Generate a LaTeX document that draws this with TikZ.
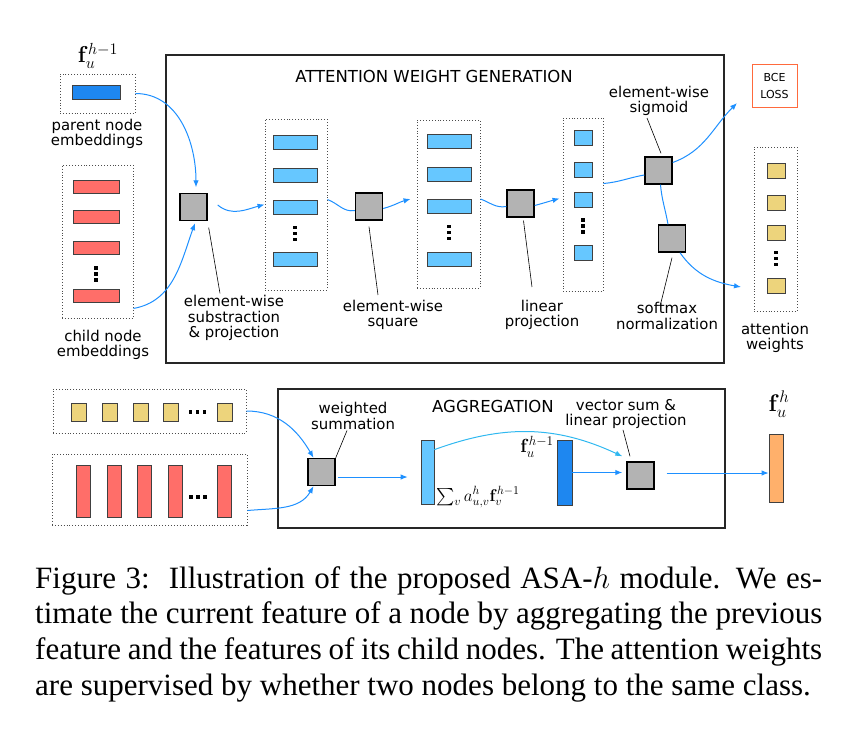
\RequirePackage{fix-cm}
\documentclass[tikz,border=0pt]{standalone}
\usepackage{amsmath}
\usepackage[no-math]{fontspec}
\setmainfont{Liberation Serif}
\setsansfont{DejaVu Sans}
\usetikzlibrary{arrows.meta,positioning}
\definecolor{parentBlue}{HTML}{1E87F0}
\definecolor{featBlue}{HTML}{66C7FF}
\definecolor{childRed}{HTML}{FF6E69}
\definecolor{weightYellow}{HTML}{EDD47C}
\definecolor{outOrange}{HTML}{FFB06B}
\definecolor{opGray}{HTML}{B3B3B3}
\definecolor{flowBlue}{HTML}{1E90FF}
\definecolor{arcCyan}{HTML}{30B8F0}
\definecolor{lossRed}{HTML}{FF6A3D}
\newcommand*{\sqSize}{27}
\newcommand*{\capWidth}{787pt}
\newcommand{\vDots}[2]{\foreach \dd in {-6,0,6} {\fill (#1-1.8,#2+\dd-1.8) rectangle ++(3.6,3.6);}}
\newcommand{\hDots}[2]{\foreach \dd in {-7,0,7} {\fill (#1+\dd-1.8,#2-1.8) rectangle ++(3.6,3.6);}}

\begin{document}
\begin{tikzpicture}[x=1pt,y=-1pt,
	op/.style={draw=black, line width=1.4pt, fill=opGray, minimum width=\sqSize, minimum height=\sqSize, inner sep=0},
	vec/.style={draw=black!75, line width=0.7pt, inner sep=0, minimum width=44, minimum height=14},
	grp/.style={draw=black!70, dotted, line width=0.9pt, inner sep=0},
	blockFrame/.style={draw=black!85, line width=1.4pt, inner sep=0},
	flow/.style={flowBlue, line width=1pt, -{Latex[length=7pt,width=5.5pt]}},
	link/.style={flowBlue, line width=1pt},
	leader/.style={black, line width=0.6pt},
	lbl/.style={font=\sffamily\fontsize{14.9}{15.2}\selectfont, align=center, inner sep=0},
	hdr/.style={font=\sffamily\fontsize{16.5}{18}\selectfont, inner sep=0},
	capText/.style={font=\fontsize{31}{35.7}\selectfont, align=left, inner sep=0}]
	\useasboundingbox (0,0) rectangle (852,742);
	
	% attention weight generation
	\node[blockFrame, minimum width=558, minimum height=308] (attBox) at (445,209) {};
	\node[hdr] (attTitle) at (434,76) {ATTENTION WEIGHT GENERATION};
	
	\node[grp, minimum width=75, minimum height=39] (parentGrp) at (97.5,93.5) {};
	\node[vec, fill=parentBlue, minimum width=48] (parentVec) at (96,92) {};
	\node[inner sep=0, font=\fontsize{23}{26}\selectfont] (fPrev) at (98,56) {$\mathbf{f}_u^{h-1}$};
	\node[lbl] (parentLbl) at (97,134) {parent node\\embeddings};
	
	\node[grp, minimum width=71, minimum height=153] (childGrp) at (97.5,241.5) {};
	\foreach \y [count=\i] in {186.5,216.5,247.5,296}
		\node[vec, fill=childRed, minimum width=46, minimum height=13] (child\i) at (96,\y) {};
	\vDots{96}{274}
	\node[lbl] (childLbl) at (103,345) {child node\\embeddings};
	
	\node[op] (subProj) at (193.5,207) {};
	\node[op] (sqOp) at (369,206.5) {};
	\node[op] (linProj) at (520.5,203.5) {};
	\node[op] (sigOp) at (658.5,170.5) {};
	\node[op] (softOp) at (672,238.5) {};
	
	\node[grp, minimum width=62, minimum height=171] (diffGrp) at (296,204.5) {};
	\foreach \y [count=\i] in {142.5,175,207,259.5}
		\node[vec, fill=featBlue] (diff\i) at (295,\y) {};
	\vDots{295}{233.5}
	\node[grp, minimum width=63, minimum height=168] (sqGrp) at (448.5,204) {};
	\foreach \y [count=\i] in {141.5,174,206.5,259.5}
		\node[vec, fill=featBlue] (sq\i) at (449,\y) {};
	\vDots{449}{232.5}
	\node[grp, minimum width=40, minimum height=173] (scoreGrp) at (583,204.5) {};
	\foreach \y [count=\i] in {137.5,169.5,199.5,252.5}
		\node[vec, fill=featBlue, minimum width=18, minimum height=15] (score\i) at (583,\y) {};
	\vDots{583}{226}
	
	\node[draw=lossRed, line width=1pt, minimum width=45, minimum height=43, align=center, inner sep=0, font=\sffamily\fontsize{11}{17}\selectfont] (bceLoss) at (774.5,85.5) {BCE\\LOSS};
	\node[grp, minimum width=43, minimum height=164] (attnGrp) at (775.5,229) {};
	\foreach \y [count=\i] in {170.5,202.5,232.5,285.5}
		\node[vec, fill=weightYellow, minimum width=18, minimum height=15] (attn\i) at (776,\y) {};
	\vDots{776}{258.5}
	\node[lbl] (attnLbl) at (775,338) {attention\\weights};
	
	\node[lbl] (subLbl) at (234,318) {element-wise\\substraction\\\& projection};
	\node[lbl] (sqLbl) at (393,315) {element-wise\\square};
	\node[lbl] (linLbl) at (542,315) {linear\\projection};
	\node[lbl] (sigLbl) at (659,101) {element-wise\\sigmoid};
	\node[lbl] (softLbl) at (667,316) {softmax\\normalization};
	
	\draw[leader] ([shift={(1pt,-6.5pt)}]subProj.south east) -- ([shift={(-14pt,2pt)}]subLbl.north);
	\draw[leader] ([yshift=-6pt]sqOp.south) -- ([shift={(-15pt,5pt)}]sqLbl.north);
	\draw[leader] ([shift={(3pt,-3pt)}]linProj.south) -- ([shift={(-10pt,13pt)}]linLbl.north);
	\draw[leader] ([shift={(-12pt,-2pt)}]sigLbl.south) -- ([shift={(2.5pt,3pt)}]sigOp.north);
	\draw[leader] ([yshift=-5pt]softOp.south) -- ([shift={(-6pt,0pt)}]softLbl.north);
	
	\draw[flow] (parentGrp.east) to[out=0, in=90] ([shift={(2.5pt,5.5pt)}]subProj.north);
	\draw[flow] ([yshift=10pt]childGrp.south east) to[out=10, in=-110] ([shift={(1.5pt,-2pt)}]subProj.south);
	\draw[flow] ([shift={(10pt,2pt)}]subProj.east) to[out=-40, in=195] (diffGrp.west);
	\draw[link] ([yshift=5pt]diffGrp.east) to[out=-20, in=190] ([yshift=-4pt]sqOp.west);
	\draw[flow] ([yshift=-2pt]sqOp.east) to[out=15, in=195] ([shift={(-6pt,5pt)}]sqGrp.west);
	\draw[link] ([yshift=5pt]sqGrp.east) to[out=-20, in=190] ([yshift=-3pt]linProj.west);
	\draw[flow] ([yshift=-2pt]linProj.east) to[out=15, in=195] ([shift={(-3pt,6pt)}]scoreGrp.west);
	\draw[link] ([yshift=21pt]scoreGrp.east) to[out=5, in=190] ([yshift=-4.5pt]sigOp.west);
	\coordinate (bceIn) at (737,103);
	\draw[flow] ([yshift=8pt]sigOp.east) to[out=20, in=225] (bceIn);
	\draw[link] ([xshift=2pt]sigOp.south) to[out=-85, in=100] ([xshift=-4pt]softOp.north);
	\coordinate (attnIn) at (741,287);
	\draw[flow] ([xshift=8pt]softOp.south) to[out=-55, in=170] (attnIn);
	
	% aggregation
	\node[blockFrame, minimum width=447, minimum height=139] (aggBox) at (501.5,458.5) {};
	\node[hdr] (aggTitle) at (493,406) {AGGREGATION};
	
	\node[grp, minimum width=193, minimum height=44] (wRow) at (149.5,411) {};
	\foreach \x [count=\i] in {78.5,109.5,140.5,170.5,224.5}
		\node[vec, fill=weightYellow, minimum width=15, minimum height=18] (w\i) at (\x,412) {};
	\hDots{197.5}{412}
	\node[grp, minimum width=195, minimum height=71] (cRow) at (149.5,489.5) {};
	\foreach \x [count=\i] in {83,114,144,175,224}
		\node[vec, fill=childRed, minimum width=14, minimum height=52] (c\i) at (\x,491) {};
	\hDots{198}{497}
	
	\node[op] (wSum) at (321.5,472) {};
	\node[lbl] (wSumLbl) at (353,416) {weighted\\summation};
	\draw[leader] ([shift={(-6pt,-1pt)}]wSumLbl.south) -- (wSum.north east);
	\draw[flow] (wRow.east) to[out=0, in=120] ([xshift=-8pt]wSum.north);
	\draw[flow] ([yshift=-21pt]cRow.east) to[out=5, in=-120] ([xshift=-8pt]wSum.south);
	
	\node[vec, fill=featBlue, minimum width=13, minimum height=64] (aggVec) at (427.5,472) {};
	\draw[flow] ([shift={(2pt,-5pt)}]wSum.east) -- ([shift={(-13pt,-5pt)}]aggVec.west);
	\node[inner sep=0, anchor=base west, font=\fontsize{17}{19}\selectfont] (aggSum) at (436,501) {$\sum_v a_{u,v}^h\mathbf{f}_v^{h-1}$};
	
	\node[vec, fill=parentBlue, minimum width=15, minimum height=65] (prevVec) at (564.5,472.5) {};
	\node[inner sep=0, font=\fontsize{19}{22}\selectfont] (prevLbl) at (537,447) {$\mathbf{f}_u^{h-1}$};
	
	\node[op] (vecSum) at (640.5,475.5) {};
	\node[lbl] (vecSumLbl) at (626,414) {vector sum \&\\linear projection};
	\draw[leader] ([shift={(-3pt,-1pt)}]vecSumLbl.south) -- ([shift={(-10.5pt,5pt)}]vecSum.north);
	\draw[flow, arcCyan] ([yshift=-10pt]aggVec.north east) to[out=20, in=155] ([shift={(-4pt,5pt)}]vecSum.north west);
	\draw[flow] (prevVec.east) -- ([shift={(-4pt,3pt)}]vecSum.west);
	
	\node[vec, fill=outOrange, minimum width=14, minimum height=68] (outVec) at (776,468) {};
	\node[inner sep=0, font=\fontsize{24}{26}\selectfont] (fOut) at (779,404) {$\mathbf{f}_u^h$};
	\draw[flow] ([shift={(12pt,2.5pt)}]vecSum.east) -- ([yshift=-5pt]outVec.west);
	
	% caption
	\node[capText, anchor=north west] (cap) at (35,566) {%
		\hbox to\capWidth{Figure 3:\ \ Illustration of the proposed ASA-$h$ module. We es-}\\
		\hbox to\capWidth{timate the current feature of a node by aggregating the previous}\\
		\hbox to\capWidth{feature and the features of its child nodes. The attention weights}\\
		\hbox{are supervised by whether two nodes belong to the same class.}};
\end{tikzpicture}
\end{document}
